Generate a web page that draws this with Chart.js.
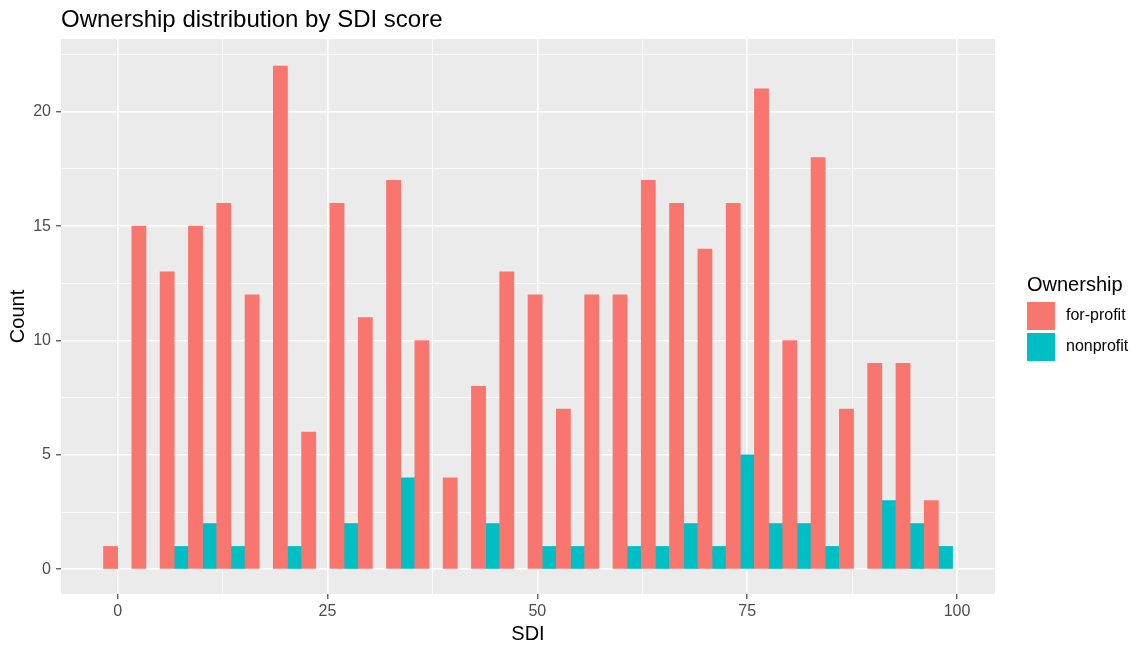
<!DOCTYPE html>
<html>
<head>
<meta charset="utf-8">
<script src="https://cdn.jsdelivr.net/npm/chart.js@4.4.1/dist/chart.umd.min.js"></script>
<style>
  html, body { margin: 0; padding: 0; background: #ffffff; }
  canvas { display: block; }
</style>
</head>
<body>
<canvas id="c" width="1143" height="650"></canvas>
<script>
// ---- data ----
const binWidth = 3.372;            // histogram bin width (30 bins)
const binIndex = [0,1,2,3,4,5,6,7,8,9,10,11,12,13,14,15,16,17,18,19,20,21,22,23,24,25,26,27,28,29];
const forProfit = [1,15,13,15,16,12,22,6,16,11,17,10,4,8,13,12,7,12,12,17,16,14,16,21,10,18,7,9,9,3];
const nonprofit = [0,0,1,2,1,0,1,0,2,0,4,0,0,2,0,1,1,0,1,1,2,1,5,2,2,1,0,3,2,1];
const seriesNames = ['for-profit', 'nonprofit'];
const seriesColors = ['#F8766D', '#00BFC4'];
const xTicks = [0, 12.5, 25, 37.5, 50, 62.5, 75, 87.5, 100];
const xMajor = [0, 25, 50, 75, 100];
const yTicks = [0, 2.5, 5, 7.5, 10, 12.5, 15, 17.5, 20, 22.5];
const yMajor = [0, 5, 10, 15, 20];
const chartTitle = 'Ownership distribution by SDI score';
const xTitle = 'SDI';
const yTitle = 'Count';
const legendTitle = 'Ownership';

const FONT = '"Liberation Sans", Arial, Helvetica, sans-serif';
const binCenters = binIndex.map(i => i * binWidth);

const isMajor = (list, v) => list.some(m => Math.abs(m - v) < 1e-6);
const tickIsMajor = (list, c) => !!(c && c.tick && isMajor(list, c.tick.value));
const barColor = color => c => (c && c.raw && c.raw.y === 0) ? 'rgba(0,0,0,0)' : color;

const decor = {
  id: 'decor',
  beforeDraw(chart) {
    const {ctx, chartArea: a} = chart;
    ctx.save();
    ctx.fillStyle = '#ffffff';
    ctx.fillRect(0, 0, chart.width, chart.height);
    ctx.fillStyle = '#EBEBEB';
    ctx.fillRect(a.left, a.top, a.right - a.left, a.bottom - a.top);
    ctx.restore();
  },
  afterDraw(chart) {
    const {ctx, chartArea: a} = chart;
    ctx.save();
    // main title
    ctx.fillStyle = '#000000';
    ctx.font = '24px ' + FONT;
    ctx.textAlign = 'left';
    ctx.textBaseline = 'alphabetic';
    ctx.fillText(chartTitle, a.left, 27);
    // legend
    const lx = a.right + 32;
    ctx.font = '20px ' + FONT;
    ctx.fillText(legendTitle, lx, 290.5);
    const keyW = 28, keyH = 28, gap = 3, top0 = 302;
    ctx.font = '16px ' + FONT;
    ctx.textBaseline = 'middle';
    seriesNames.forEach((name, i) => {
      const ky = top0 + i * (keyH + gap);
      ctx.fillStyle = seriesColors[i];
      ctx.fillRect(lx, ky, keyW, keyH);
      ctx.fillStyle = '#000000';
      ctx.fillText(name, lx + keyW + 11, ky + keyH / 2);
    });
    ctx.restore();
  }
};

new Chart(document.getElementById('c'), {
  type: 'bar',
  data: {
    datasets: [
      {
        label: seriesNames[0],
        data: binCenters.map((x, i) => ({x: x, y: forProfit[i]})),
        backgroundColor: barColor(seriesColors[0]),
        borderWidth: 0
      },
      {
        label: seriesNames[1],
        data: binCenters.map((x, i) => ({x: x, y: nonprofit[i]})),
        backgroundColor: barColor(seriesColors[1]),
        borderWidth: 0
      }
    ]
  },
  options: {
    responsive: false,
    devicePixelRatio: 1,
    animation: false,
    layout: { padding: { top: 39, right: 148, left: 0, bottom: 0 } },
    datasets: { bar: { barPercentage: 1, categoryPercentage: 1, grouped: true } },
    plugins: {
      legend: { display: false },
      title: { display: false },
      tooltip: { enabled: false }
    },
    scales: {
      x: {
        type: 'linear',
        min: -6.75,
        max: 104.53,
        offset: false,
        afterBuildTicks: s => { s.ticks = xTicks.map(v => ({value: v})); },
        afterFit: s => { s.height = 56; },
        border: { display: false },
        grid: {
          offset: false,
          color: '#ffffff',
          lineWidth: c => tickIsMajor(xMajor, c) ? 1.6 : 0.8,
          drawTicks: true,
          tickLength: 5,
          tickWidth: 1.1,
          tickColor: c => tickIsMajor(xMajor, c) ? '#333333' : 'rgba(0,0,0,0)'
        },
        ticks: {
          autoSkip: false,
          maxRotation: 0,
          padding: 3,
          color: '#4D4D4D',
          font: { family: FONT, size: 16 },
          callback: v => isMajor(xMajor, v) ? String(v) : ''
        },
        title: {
          display: true,
          text: xTitle,
          color: '#000000',
          font: { family: FONT, size: 20 },
          padding: { top: 0, bottom: 4 }
        }
      },
      y: {
        type: 'linear',
        min: -1.08,
        max: 23.18,
        afterBuildTicks: s => { s.ticks = yTicks.map(v => ({value: v})); },
        afterFit: s => { s.width = 61; },
        border: { display: false },
        grid: {
          offset: false,
          color: '#ffffff',
          lineWidth: c => tickIsMajor(yMajor, c) ? 1.6 : 0.8,
          drawTicks: true,
          tickLength: 5,
          tickWidth: 1.1,
          tickColor: c => tickIsMajor(yMajor, c) ? '#333333' : 'rgba(0,0,0,0)'
        },
        ticks: {
          autoSkip: false,
          padding: 5,
          color: '#4D4D4D',
          font: { family: FONT, size: 16 },
          callback: v => isMajor(yMajor, v) ? String(v) : ''
        },
        title: {
          display: true,
          text: yTitle,
          color: '#000000',
          font: { family: FONT, size: 20 },
          padding: { top: 6, bottom: 0 }
        }
      }
    }
  },
  plugins: [decor]
});
</script>
</body>
</html>
